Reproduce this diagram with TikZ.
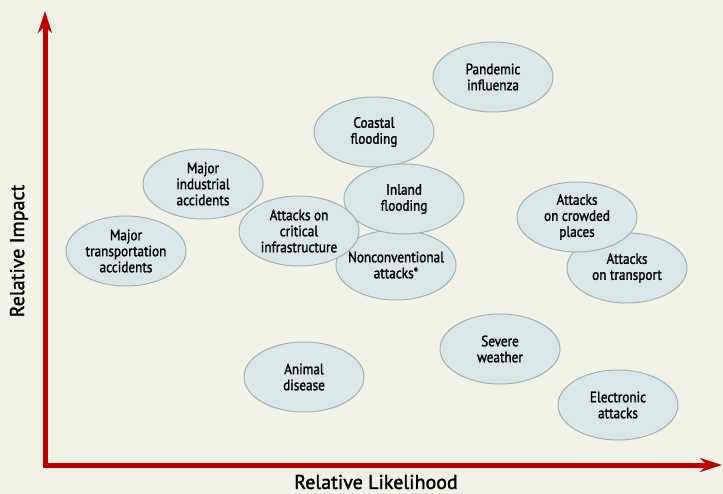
\documentclass[tikz,border=0pt]{standalone}
\usepackage{fontspec}
\setmainfont{PT Sans}[FakeStretch=0.88,FakeBold=1.5]
\newfontfamily\axisfont{PT Sans}[FakeBold=1.5]
\usepackage{tikz}
\usetikzlibrary{shapes,arrows.meta,backgrounds}
\definecolor{PaperCream}{HTML}{F2F1E6}
\definecolor{RiskFill}{HTML}{D9E7E8}
\definecolor{RiskEdge}{HTML}{A2B2B2}
\definecolor{AxisRed}{HTML}{BE0000}
\tikzset{
    risk/.style = {draw=RiskEdge, fill=RiskFill, ellipse, line width=1pt,
        minimum width=120pt,
        minimum height=70pt, inner xsep=-12pt, inner ysep=0pt, align=center,
        font=\fontsize{15}{16}\selectfont},
    axis/.style = {draw=AxisRed, line width=5pt, line join=miter,
        {Stealth[length=22pt,width=14pt]}-{Stealth[length=22pt,width=14pt]}},
    axislabel/.style = {font=\axisfont\fontsize{20}{22}\selectfont}
}

\begin{document}
\begin{tikzpicture}[x=1pt,y=-1pt]
        \fill[PaperCream] (0,0) rectangle (723,494);
        \useasboundingbox (0,0) rectangle (723,494);
                \coordinate (top) at (45,11);
                \coordinate (origin) at (45,465);
                \coordinate (right) at (722,465);
                \draw [axis] (top) -- (origin) -- (right);
                \node [axislabel,rotate=90] (impact) at (19,251) {Relative Impact};
                \node [axislabel] (likelihood) at (376,482) {Relative Likelihood};
%                 risks, back to front
         \node[risk] (pandemic) at (493,77) {Pandemic\\influenza};
         \node[risk] (coastal) at (374,132) {Coastal\\flooding};
         \node[risk] (industrial) at (203,184) {Major\\industrial\\accidents};
         \node[risk] (transportation) at (126,251) {Major\\transportation\\accidents};
         \node[risk] (nonconv) at (396,265) {Nonconventional\\attacks*};
         \node[risk] (inland) at (404,199) {Inland\\flooding};
         \node[risk] (critical) at (299,231) {Attacks on\\critical\\infrastructure};
         \node[risk] (transport) at (627,268) {Attacks\\on transport};
         \node[risk] (crowded) at (577,217) {Attacks\\on crowded\\places};
         \node[risk] (weather) at (500,349) {Severe\\weather};
         \node[risk] (animal) at (304,377) {Animal\\disease};
         \node[risk] (electronic) at (618,405) {Electronic\\attacks};
            \end{tikzpicture}
\end{document}
